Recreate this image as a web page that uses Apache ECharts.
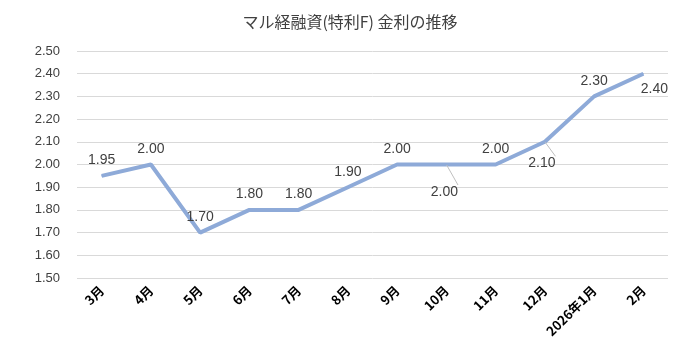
<!DOCTYPE html>
<html><head><meta charset="utf-8">
<script src="https://cdn.jsdelivr.net/npm/echarts@6/dist/echarts.min.js"></script>
<style>html,body{margin:0;padding:0;background:#fff}#c{width:700px;height:360px}</style>
</head><body><div id="c"></div>
<script>
const title = 'マル経融資(特利F) 金利の推移';
const categories = ['3月','4月','5月','6月','7月','8月','9月','10月','11月','12月','2026年1月','2月'];
const values = [1.95, 2.00, 1.70, 1.80, 1.80, 1.90, 2.00, 2.00, 2.00, 2.10, 2.30, 2.40];
const labelPlacement = ['top','top','top','top','top','top','top','below','top','belowNear','top','belowRight'];

const data = values.map((v, i) => {
  const p = labelPlacement[i];
  const d = { value: v };
  if (p === 'below') {
    d.label = { position: 'bottom', distance: 20, offset: [-2, 0] };
    d.labelLine = { show: true };
  } else if (p === 'belowNear') {
    d.label = { position: 'bottom', distance: 14, offset: [-3, 0] };
    d.labelLine = { show: true };
  } else if (p === 'belowRight') {
    d.label = { position: 'bottom', distance: 8, offset: [11, 0] };
  }
  return d;
});

const chart = echarts.init(document.getElementById('c'));
chart.setOption({
  animation: false,
  title: { text: title, left: 'center', top: 9,
    textStyle: { fontSize: 16, fontWeight: 'normal', color: '#404040', fontFamily: 'Noto Sans CJK JP' } },
  grid: { left: 77, right: 32, top: 51, bottom: 82 },
  xAxis: {
    type: 'category', data: categories, boundaryGap: true,
    axisLine: { show: false }, axisTick: { show: false },
    axisLabel: { rotate: 45, fontSize: 13, fontWeight: 'bold', color: '#000', margin: 10,
      fontFamily: 'Noto Sans CJK JP', interval: 0 }
  },
  yAxis: {
    type: 'value', min: 1.5, max: 2.5, interval: 0.1,
    axisLine: { show: false }, axisTick: { show: false },
    axisLabel: { formatter: v => v.toFixed(2), fontSize: 13, color: '#404040', margin: 17,
      fontFamily: 'Liberation Sans' },
    splitLine: { lineStyle: { color: '#d9d9d9', width: 1 } }
  },
  series: [{
    type: 'line', data: data, symbol: 'circle', symbolSize: 1, showSymbol: true,
    itemStyle: { color: '#8eaad8' },
    lineStyle: { color: '#8eaad8', width: 4 },
    label: { show: true, position: 'top', distance: 8, fontSize: 14, color: '#404040',
      fontFamily: 'Liberation Sans', formatter: p => p.value.toFixed(2) },
    labelLine: { show: false, lineStyle: { color: '#bfbfbf', width: 1 } }
  }]
});
</script></body></html>
